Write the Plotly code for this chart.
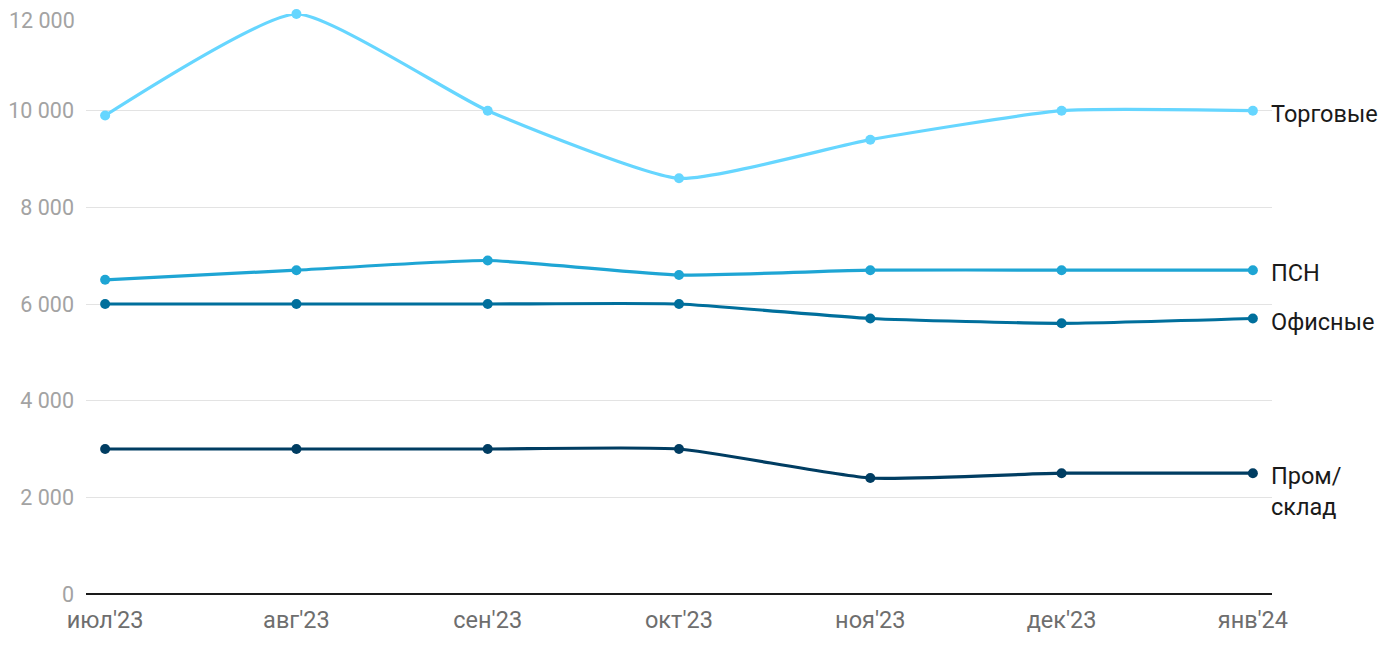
import plotly.graph_objects as go

months = ["июл'23", "авг'23", "сен'23", "окт'23", "ноя'23", "дек'23", "янв'24"]
torg = [9900, 12000, 10000, 8600, 9400, 10000, 10000]
psn = [6500, 6700, 6900, 6600, 6700, 6700, 6700]
office = [6000, 6000, 6000, 6000, 5700, 5600, 5700]
prom = [3000, 3000, 3000, 3000, 2400, 2500, 2500]
y_ticks = [0, 2000, 4000, 6000, 8000, 10000, 12000]
y_labels = ["0", "2 000", "4 000", "6 000", "8 000", "10 000", "12 000"]

series = [
    ("Торговые", torg, "#66d6ff"),
    ("ПСН", psn, "#1ea5d4"),
    ("Офисные", office, "#006f9c"),
    ("Пром/<br>склад", prom, "#003d62"),
]

fig = go.Figure()
xi = list(range(len(months)))
for name, vals, color in series:
    fig.add_trace(go.Scatter(
        x=xi, y=vals, mode="lines+markers", name=name,
        line=dict(color=color, width=3.2, shape="spline", smoothing=0.5),
        marker=dict(color=color, size=10),
        cliponaxis=False, showlegend=False,
    ))
    fig.add_annotation(
        x=xi[-1], y=vals[-1], text=name, showarrow=False,
        xanchor="left", yanchor="top", xshift=16, yshift=13,
        align="left", font=dict(size=23.5, color="#1a1a1a", family="Roboto"),
    )

# top tick label drawn as annotation so it stays inside the page
fig.add_annotation(
    xref="paper", x=0, y=y_ticks[-1], text=y_labels[-1], showarrow=False,
    xanchor="right", yanchor="middle", xshift=-9, yshift=-6,
    font=dict(size=21.5, color="#a3a3a3", family="Roboto"),
)

fig.update_layout(
    width=1400, height=650,
    margin=dict(l=78, r=136, t=6, b=64, autoexpand=False),
    paper_bgcolor="white", plot_bgcolor="white",
    font=dict(family="Roboto"),
)
fig.update_xaxes(
    range=[-0.1, 6.1], tickmode="array", tickvals=xi, ticktext=months,
    showgrid=False, showline=False, zeroline=False, automargin=False,
    tickfont=dict(size=23.5, color="#6e6e6e"), ticks="", ticklabelstandoff=9,
)
fig.update_yaxes(
    range=[0, 12000], tickvals=y_ticks,
    ticktext=y_labels[:-1] + [""],
    showgrid=True, gridcolor="#e3e3e3", gridwidth=1.2, automargin=False,
    zeroline=True, zerolinecolor="#1a1a1a", zerolinewidth=2.2,
    tickfont=dict(size=21.5, color="#a3a3a3"), ticks="", ticklabelstandoff=11,
)
fig.write_html("out.html")
